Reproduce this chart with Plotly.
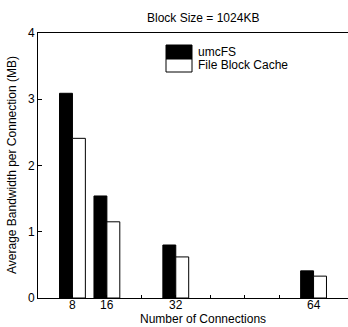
import plotly.graph_objects as go

connections = [8, 16, 32, 64]
umcfs = [3.09, 1.54, 0.80, 0.41]
fbc = [2.41, 1.15, 0.62, 0.33]
series_names = ["umcFS", "File Block Cache"]
x_tickvals = [8, 16, 24, 32, 40, 48, 56, 64]
x_labelvals = [8, 16, 32, 64]
x_labeltext = ["8", "16", "32", "64"]
y_tickvals = [0, 1, 2, 3, 4]

FONT = "Liberation Sans, Arial, sans-serif"

fig = go.Figure()
fig.add_trace(go.Bar(x=connections, y=umcfs, name=series_names[0], width=3, offset=-3,
                     marker=dict(color="black", line=dict(color="black", width=1)), showlegend=False))
fig.add_trace(go.Bar(x=connections, y=fbc, name=series_names[1], width=3, offset=0,
                     marker=dict(color="white", line=dict(color="black", width=1)), showlegend=False))

fig.update_layout(
    width=348, height=327,
    margin=dict(l=38, r=0, t=33, b=29),
    paper_bgcolor="white", plot_bgcolor="white",
    font=dict(family=FONT, size=12, color="black"),
    barmode="overlay",
    xaxis=dict(range=[0, 72], tickvals=x_tickvals, showticklabels=False, ticks="inside",
               ticklen=3, tickcolor="black", showline=True, linecolor="black", linewidth=1,
               mirror=True, showgrid=False, zeroline=False),
    yaxis=dict(range=[0, 4], tickvals=y_tickvals, ticks="inside", ticklen=4, tickcolor="black",
               showline=True, linecolor="black", linewidth=1, mirror=True, showgrid=False,
               zeroline=False, tickfont=dict(size=12)),
)

# x tick labels
for v, t in zip(x_labelvals, x_labeltext):
    fig.add_annotation(text=t, xref="x", yref="paper", x=v, y=-6.5/265, showarrow=False,
                       xanchor="center", yanchor="middle", font=dict(size=12))

# Titles
fig.add_annotation(text="Block Size = 1024KB", xref="paper", yref="paper", x=(203-38)/310,
                   y=1 + 15/265, showarrow=False, font=dict(size=12), xanchor="center", yanchor="middle")
fig.add_annotation(text="Number of Connections", xref="paper", yref="paper", x=(203-38)/310,
                   y=-21/265, showarrow=False, font=dict(size=12), xanchor="center", yanchor="middle")
fig.add_annotation(text="Average Bandwidth per Connection (MB)", xref="paper", yref="paper",
                   x=-26/310, y=(298-165)/265, textangle=-90, showarrow=False,
                   font=dict(size=12), xanchor="center", yanchor="middle")

# Legend drawn manually
def px(x):
    return (x - 38) / 310

def py(y):
    return (298 - y) / 265

fig.add_shape(type="rect", xref="paper", yref="paper", x0=px(166), x1=px(192), y0=py(59), y1=py(45),
              fillcolor="black", line=dict(color="black", width=1))
fig.add_shape(type="rect", xref="paper", yref="paper", x0=px(166), x1=px(192), y0=py(72), y1=py(59),
              fillcolor="white", line=dict(color="black", width=1))
fig.add_annotation(text=series_names[0], xref="paper", yref="paper", x=px(196), y=py(52),
                   showarrow=False, xanchor="left", yanchor="middle", font=dict(size=12))
fig.add_annotation(text=series_names[1], xref="paper", yref="paper", x=px(196), y=py(65),
                   showarrow=False, xanchor="left", yanchor="middle", font=dict(size=12))

fig.write_html("out.html")
